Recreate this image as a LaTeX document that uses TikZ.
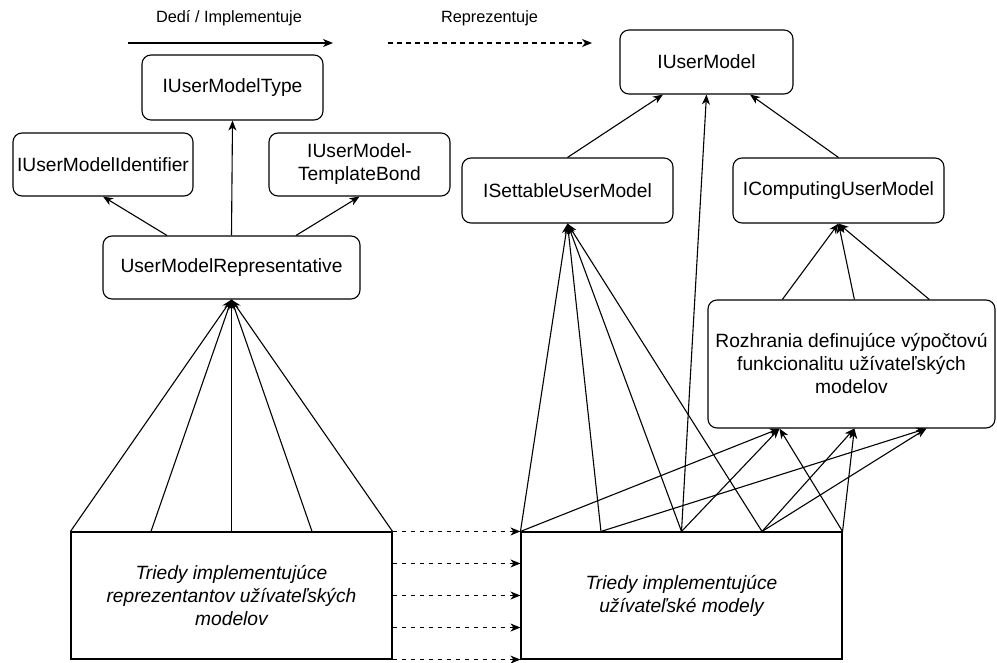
\documentclass[tikz,border=0pt]{standalone}
\usepackage{fontspec}
\setmainfont{Liberation Sans}
\usetikzlibrary{arrows.meta,calc}

\begin{document}
\begin{tikzpicture}[x=1pt, y=-1pt, line width=1.1pt,
	>={Stealth[length=10pt, width=8pt, inset=3pt]},
	every node/.style = {font=\fontsize{19.2}{23}\selectfont},
	box/.style = {draw, rounded corners=9pt, align=center, inner sep=2pt},
	cls/.style = {draw, align=center, inner sep=2pt, font=\fontsize{19.2}{23}\selectfont\itshape},
	legend/.style = {font=\fontsize{16.3}{19}\selectfont},
	repr/.style = {->, dash pattern=on 4.5pt off 4.5pt}]
	\useasboundingbox (0,0) rectangle (997,662);
	
	% legend
	\node[legend] (inhtext) at (229,18) {Dedí / Implementuje};
	\node[legend] (reptext) at (489.5,18) {Reprezentuje};
	\coordinate (inh1) at (128,43);
	\coordinate (inh2) at (333,43);
	\coordinate (rep1) at (388,43);
	\coordinate (rep2) at (592,43);
	\draw[->] (inh1) -- (inh2);
	\draw[repr] (rep1) -- (rep2);
	
	% left part
	\node[box, minimum width=181pt, minimum height=65pt] (umt) at (232.5,87.5) {IUserModelType};
	\node[box, minimum width=180pt, minimum height=63pt] (umi) at (103,164.5) {IUserModelIdentifier};
	\node[box, minimum width=181pt, minimum height=63pt] (umtb) at (359.5,164.5) {IUserModel-\\TemplateBond};
	\node[box, minimum width=257pt, minimum height=63pt] (umr) at (231.5,267.5) {UserModelRepresentative};
	\node[cls, minimum width=321pt, minimum height=127pt] (clsl) at (231.5,595.5) {Triedy implementujúce\\reprezentantov užívateľských\\modelov};
	
	% right part
	\node[box, minimum width=173pt, minimum height=64pt] (um) at (706.5,62) {IUserModel};
	\node[box, minimum width=211pt, minimum height=65pt] (sum) at (567.5,190.5) {ISettableUserModel};
	\node[box, minimum width=211pt, minimum height=65pt] (cum) at (838.5,190.5) {IComputingUserModel};
	\node[box, minimum width=287pt, minimum height=128pt] (roz) at (851.5,364) {Rozhrania definujúce výpočtovú\\funkcionalitu užívateľských\\modelov};
	\node[cls, minimum width=321pt, minimum height=127pt] (clsr) at (681.5,595.5) {Triedy implementujúce\\užívateľské modely};
	
	
	\draw[->] ($(umr.north west)!0.25!(umr.north east)$) -- (umi.south);
	\draw[->] (umr.north) -- (umt.south);
	\draw[->] ($(umr.north west)!0.75!(umr.north east)$) -- (umtb.south);
	
	\draw[->] (clsl.north west) -- (umr.south);
	\draw[->] ($(clsl.north west)!0.25!(clsl.north east)$) -- (umr.south);
	\draw[->] (clsl.north) -- (umr.south);
	\draw[->] ($(clsl.north west)!0.75!(clsl.north east)$) -- (umr.south);
	\draw[->] (clsl.north east) -- (umr.south);
	
	\draw[->] (sum.north) -- ($(um.south west)!0.25!(um.south east)$);
	\draw[->] (cum.north) -- ($(um.south west)!0.75!(um.south east)$);
	\draw[->] (clsr.north) -- (um.south);
	
	\draw[->] (clsr.north west) -- (sum.south);
	\draw[->] ($(clsr.north west)!0.25!(clsr.north east)$) -- (sum.south);
	\draw[->] (clsr.north) -- (sum.south);
	\draw[->] ($(clsr.north west)!0.75!(clsr.north east)$) -- (sum.south);
	
	\draw[->] ($(roz.north west)!0.26!(roz.north east)$) -- (cum.south);
	\draw[->] ($(roz.north west)!0.51!(roz.north east)$) -- (cum.south);
	\draw[->] ($(roz.north west)!0.77!(roz.north east)$) -- (cum.south);
	
	\draw[->] (clsr.north west) -- ($(roz.south west)!0.25!(roz.south east)$);
	\draw[->] (clsr.north) -- ($(roz.south west)!0.25!(roz.south east)$);
	\draw[->] (clsr.north east) -- ($(roz.south west)!0.25!(roz.south east)$);
	\draw[->] ($(clsr.north west)!0.75!(clsr.north east)$) -- ($(roz.south west)!0.51!(roz.south east)$);
	\draw[->] (clsr.north east) -- ($(roz.south west)!0.51!(roz.south east)$);
	\draw[->] ($(clsr.north west)!0.25!(clsr.north east)$) -- ($(roz.south west)!0.76!(roz.south east)$);
	\draw[->] ($(clsr.north west)!0.75!(clsr.north east)$) -- ($(roz.south west)!0.76!(roz.south east)$);
	
	% representation
	\draw[repr] (clsl.north east) -- (clsr.north west);
	\draw[repr] ($(clsl.north east)!0.25!(clsl.south east)$) -- ($(clsr.north west)!0.25!(clsr.south west)$);
	\draw[repr] (clsl.east) -- (clsr.west);
	\draw[repr] ($(clsl.north east)!0.75!(clsl.south east)$) -- ($(clsr.north west)!0.75!(clsr.south west)$);
	\draw[repr] (clsl.south east) -- (clsr.south west);
	
\end{tikzpicture}
\end{document}
